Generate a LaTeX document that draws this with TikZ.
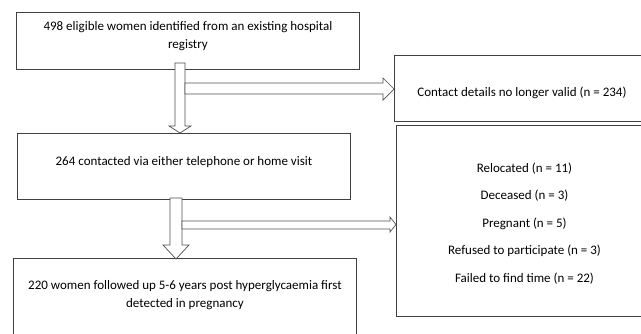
\documentclass[tikz,border=0pt]{standalone}
\usepackage{fontspec}
\setmainfont{Carlito}
\usetikzlibrary{calc}
\begin{document}
\begin{tikzpicture}[x=1pt,y=-1pt,
  box/.style={draw=boxgray,line width=0.9pt,fill=white,inner sep=0pt,anchor=north west},
  txt/.style={font=\fontsize{13}{17.5}\selectfont,text=black,align=center,inner sep=0pt},
  blockarrow/.style={draw=arrowgray,line width=0.7pt,fill=white,line join=miter}]
\definecolor{boxgray}{HTML}{404040}
\definecolor{arrowgray}{HTML}{505050}
\useasboundingbox (0,0) rectangle (641,333);
\clip (0,0) rectangle (641,333);
\fill[white] (0,0) rectangle (641,333);
% boxes
\node[box,minimum width=343pt,minimum height=57pt] (b1) at (16,12) {};
\node[box,minimum width=260pt,minimum height=66pt] (b2) at (394,55) {};
\node[box,minimum width=333pt,minimum height=66pt] (b3) at (17,133) {};
\node[box,minimum width=260pt,minimum height=191pt] (b4) at (396,125) {};
\node[box,minimum width=343pt,minimum height=100pt] (b5) at (13,258) {};
% texts
\node[txt] (t1) at ($(b1.north)+(0,24)$) {498 eligible women identified from an existing hospital\\registry};
\node[txt] (t2) at (522,93) {Contact details no longer valid (n = 234)};
\node[txt] (t3) at ($(b3.north)+(0,29)$) {264 contacted via either telephone or home visit};
\node[txt] (t5) at ($(b5.north)+(0,37)$) {220 women followed up 5-6 years post hyperglycaemia first\\detected in pregnancy};
\node[txt,font=\fontsize{13}{27.5}\selectfont] (t4) at (524.5,223.5) {Relocated (n = 11)\\Deceased (n = 3)\\Pregnant (n = 5)\\Refused to participate (n = 3)\\Failed to find time (n = 22)};
% arrow from b1 to b3 (down) with branch to b2
\draw[blockarrow] (175,63) -- (185,63) -- (185,126) -- (191,126) -- (180,133) -- (169,126) -- (175,126) -- cycle;
\draw[blockarrow] (185,83) -- (383,83) -- (383,78) -- (b2.west |- 0,89) -- (383,100) -- (383,94) -- (185,94) -- cycle;
% arrow from b3 to b5 (down) with branch to b4
\draw[blockarrow] (170,198) -- (182,198) -- (182,245) -- (189,245) -- (176,259) -- (163,245) -- (170,245) -- cycle;
\draw[blockarrow] (182,221) -- (390,221) -- (390,217) -- (b4.west |- 0,224.5) -- (390,232) -- (390,229) -- (182,229) -- cycle;
\end{tikzpicture}
\end{document}
